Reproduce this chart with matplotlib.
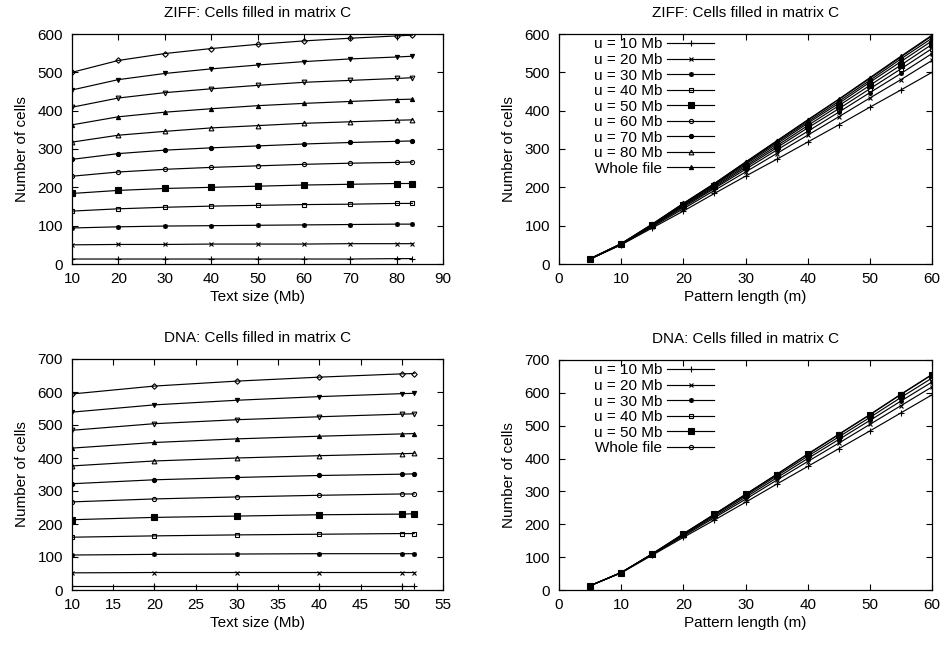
import matplotlib
matplotlib.use("Agg")
import matplotlib.pyplot as plt
import numpy as np

plt.rcParams['font.family'] = ['Liberation Sans', 'DejaVu Sans']
plt.rcParams['font.size'] = 11

# ---------------- data ----------------
pattern_lengths = [5, 10, 15, 20, 25, 30, 35, 40, 45, 50, 55, 60]

ziff_sizes = [10, 20, 30, 40, 50, 60, 70, 80, 83.4]
ziff_labels = ["u = 10 Mb", "u = 20 Mb", "u = 30 Mb", "u = 40 Mb", "u = 50 Mb",
               "u = 60 Mb", "u = 70 Mb", "u = 80 Mb", "Whole file"]
# rows: pattern length m, columns: text size
ziff_m05 = [13, 13, 13, 13, 13, 13, 13, 14, 14]
ziff_m10 = [50, 51, 51, 52, 52, 52, 53, 53, 53]
ziff_m15 = [94, 97, 99, 100, 101, 102, 103, 104, 104]
ziff_m20 = [138, 144, 148, 151, 153, 155, 156, 158, 158]
ziff_m25 = [184, 192, 197, 200, 203, 206, 208, 210, 210]
ziff_m30 = [229, 240, 247, 252, 256, 260, 263, 265, 266]
ziff_m35 = [273, 288, 297, 303, 308, 313, 317, 320, 321]
ziff_m40 = [318, 336, 346, 355, 361, 367, 371, 375, 376]
ziff_m45 = [363, 384, 396, 405, 413, 419, 424, 429, 430]
ziff_m50 = [409, 433, 447, 457, 466, 474, 479, 484, 486]
ziff_m55 = [454, 481, 497, 509, 519, 528, 535, 540, 542]
ziff_m60 = [500, 531, 549, 562, 573, 582, 589, 595, 597]
ziff_cells = [ziff_m05, ziff_m10, ziff_m15, ziff_m20, ziff_m25, ziff_m30,
              ziff_m35, ziff_m40, ziff_m45, ziff_m50, ziff_m55, ziff_m60]

dna_sizes = [10, 20, 30, 40, 50, 51.5]
dna_labels = ["u = 10 Mb", "u = 20 Mb", "u = 30 Mb", "u = 40 Mb", "u = 50 Mb",
              "Whole file"]
dna_m05 = [13, 13, 13, 13, 13, 13]
dna_m10 = [52, 53, 53, 53, 53, 53]
dna_m15 = [106, 108, 109, 110, 110, 110]
dna_m20 = [160, 164, 167, 169, 171, 171]
dna_m25 = [213, 220, 224, 228, 230, 231]
dna_m30 = [267, 276, 282, 287, 291, 291]
dna_m35 = [322, 334, 341, 347, 351, 352]
dna_m40 = [376, 391, 400, 407, 413, 414]
dna_m45 = [430, 447, 458, 466, 473, 474]
dna_m50 = [484, 504, 516, 525, 533, 534]
dna_m55 = [539, 561, 575, 586, 595, 596]
dna_m60 = [594, 618, 633, 645, 655, 656]
dna_cells = [dna_m05, dna_m10, dna_m15, dna_m20, dna_m25, dna_m30,
             dna_m35, dna_m40, dna_m45, dna_m50, dna_m55, dna_m60]

# ---------------- styles (gnuplot point types 1..12) ----------------
ASTER = (8, 2, 0)
point_styles = [
    dict(marker='+', ms=3.8),
    dict(marker='x', ms=3.0),
    dict(marker=ASTER, ms=3.6),
    dict(marker='s', ms=3.2, mfc='none'),
    dict(marker='s', ms=3.8),
    dict(marker='o', ms=3.0, mfc='none'),
    dict(marker='o', ms=3.0),
    dict(marker='^', ms=3.4, mfc='none'),
    dict(marker='^', ms=3.0),
    dict(marker='v', ms=3.4, mfc='none'),
    dict(marker='v', ms=3.0),
    dict(marker='D', ms=2.8, mfc='none'),
]

def style(i):
    s = dict(color='black', lw=0.85, mew=0.8, mec='black')
    s.update(point_styles[i])
    if 'mfc' not in s:
        s['mfc'] = 'black'
    return s

fig = plt.figure(figsize=(9.42, 6.45), dpi=100)
W, H = 942.0, 645.0

def make_ax(l, t, r, b):
    return fig.add_axes([l / W, 1 - b / H, (r - l) / W, (b - t) / H])

ax1 = make_ax(72, 34, 443, 264)
ax2 = make_ax(559, 34, 932, 264)
ax3 = make_ax(72, 359, 443, 590)
ax4 = make_ax(559, 360, 932, 590)

def decorate(ax, title, xlabel, xlim, xticks, ylim, yticks):
    ax.set_title(title, fontsize=11, pad=12)
    ax.set_xlabel(xlabel, fontsize=11, labelpad=3)
    ax.set_ylabel("Number of cells", fontsize=11, labelpad=6)
    ax.set_xlim(*xlim)
    ax.set_ylim(*ylim)
    ax.set_xticks(xticks)
    ax.set_yticks(yticks)
    ax.tick_params(direction='in', length=4.5, width=0.8, top=True, right=True,
                   labelsize=11)
    ax.tick_params(axis='x', pad=5.5)
    ax.tick_params(axis='y', pad=6.5)
    for sp in ax.spines.values():
        sp.set_linewidth(0.9)

# top-left: ZIFF vs text size
for i, row in enumerate(ziff_cells):
    ax1.plot(ziff_sizes, row, **style(i))
decorate(ax1, "ZIFF: Cells filled in matrix C", "Text size (Mb)",
         (10, 90), range(10, 91, 10), (0, 600), range(0, 601, 100))

# top-right: ZIFF vs pattern length
for j, lab in enumerate(ziff_labels):
    ys = [row[j] for row in ziff_cells]
    ax2.plot(pattern_lengths, ys, label=lab, **style(j))
decorate(ax2, "ZIFF: Cells filled in matrix C", "Pattern length (m)",
         (0, 60), range(0, 61, 10), (0, 600), range(0, 601, 100))

# bottom-left: DNA vs text size
for i, row in enumerate(dna_cells):
    ax3.plot(dna_sizes, row, **style(i))
decorate(ax3, "DNA: Cells filled in matrix C", "Text size (Mb)",
         (10, 55), range(10, 56, 5), (0, 700), range(0, 701, 100))

# bottom-right: DNA vs pattern length
dna_series_styles = [0, 1, 2, 3, 4, 5]
for j, lab in enumerate(dna_labels):
    ys = [row[j] for row in dna_cells]
    ax4.plot(pattern_lengths, ys, label=lab, **style(dna_series_styles[j]))
decorate(ax4, "DNA: Cells filled in matrix C", "Pattern length (m)",
         (0, 60), range(0, 61, 10), (0, 700), range(0, 701, 100))

for ax in (ax2, ax4):
    ax.legend(loc='upper right', bbox_to_anchor=(0.4155, 0.985), frameon=False,
              markerfirst=False, handlelength=3.07, handletextpad=0.33,
              labelspacing=0.1, borderpad=0, borderaxespad=0, fontsize=11)

fig.savefig("out.png", dpi=100)
